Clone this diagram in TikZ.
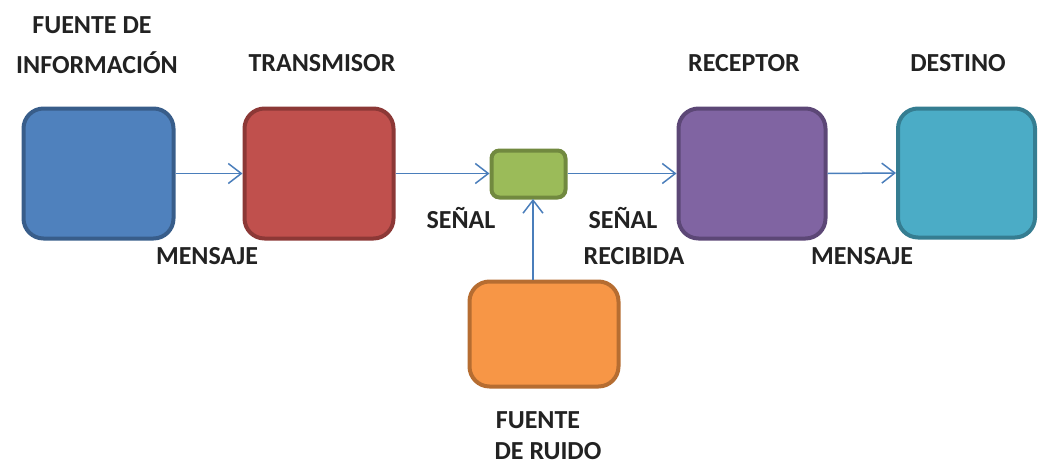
\documentclass[tikz,border=0pt]{standalone}
\usepackage{fontspec}
\setmainfont{Carlito}
\usetikzlibrary{arrows.meta}
\definecolor{arrowblue}{HTML}{4A7EBB}
\definecolor{bluefill}{HTML}{4F81BD}\definecolor{blueline}{HTML}{385D8A}
\definecolor{redfill}{HTML}{C0504D}\definecolor{redline}{HTML}{8C3836}
\definecolor{greenfill}{HTML}{9BBB59}\definecolor{greenline}{HTML}{71893F}
\definecolor{purplefill}{HTML}{8064A2}\definecolor{purpleline}{HTML}{5C4776}
\definecolor{tealfill}{HTML}{4BACC6}\definecolor{tealline}{HTML}{357D91}
\definecolor{orangefill}{HTML}{F79646}\definecolor{orangeline}{HTML}{B66D31}
\definecolor{textcol}{HTML}{222222}
\tikzset{
  blockbox/.style={rectangle, rounded corners=20pt, line width=4pt, inner sep=0pt},
  lbl/.style={font=\fontsize{26}{30}\selectfont\bfseries, text=textcol, inner sep=0pt, anchor=center},
  conn/.style={draw=arrowblue, line width=1.5pt, -{Straight Barb[length=13pt,width=20pt,line width=1.5pt]}}
}
\begin{document}
\begin{tikzpicture}[x=1pt,y=-1pt]
\useasboundingbox (0,0) rectangle (1038,466);
% boxes
\node[blockbox, fill=bluefill, draw=blueline, minimum width=150pt, minimum height=130pt] (fuente) at (98.5,173.5) {};
\node[blockbox, fill=redfill, draw=redline, minimum width=149pt, minimum height=130pt] (trans) at (319,173.5) {};
\node[blockbox, fill=greenfill, draw=greenline, rounded corners=8pt, minimum width=74pt, minimum height=47pt] (canal) at (528.5,174) {};
\node[blockbox, fill=purplefill, draw=purpleline, minimum width=147pt, minimum height=130pt] (recep) at (752,173.5) {};
\node[blockbox, fill=tealfill, draw=tealline, minimum width=137pt, minimum height=129pt] (dest) at (966.5,173) {};
\node[blockbox, fill=orangefill, draw=orangeline, minimum width=149pt, minimum height=105pt] (ruido) at (544,334) {};
% connectors
\draw[conn] (fuente.east) -- (trans.west);
\draw[conn] (trans.east) -- (trans.east -| canal.west);
\draw[conn] (canal.east |- recep.west) -- (recep.west);
\draw[conn] (recep.east) -- (dest.west);
\coordinate (rtop) at (533,280);
\coordinate (cbot) at (533,199);
\draw[conn] (rtop) -- (cbot);
% labels
\node[lbl] (t1) at (92,25) {FUENTE DE};
\node[lbl] (t2) at (97,63) {INFORMACIÓN};
\node[lbl] (t3) at (322,63) {TRANSMISOR};
\node[lbl] (t4) at (744,63) {RECEPTOR};
\node[lbl] (t5) at (958,63) {DESTINO};
\node[lbl] (t6) at (207,256) {MENSAJE};
\node[lbl] (t7) at (461,218) {SEÑAL};
\node[lbl] (t8) at (623,218) {SEÑAL};
\node[lbl] (t9) at (634,256) {RECIBIDA};
\node[lbl] (t10) at (862,256) {MENSAJE};
\node[lbl] (t11) at (538,420) {FUENTE};
\node[lbl] (t12) at (548,451) {DE RUIDO};
\end{tikzpicture}
\end{document}
